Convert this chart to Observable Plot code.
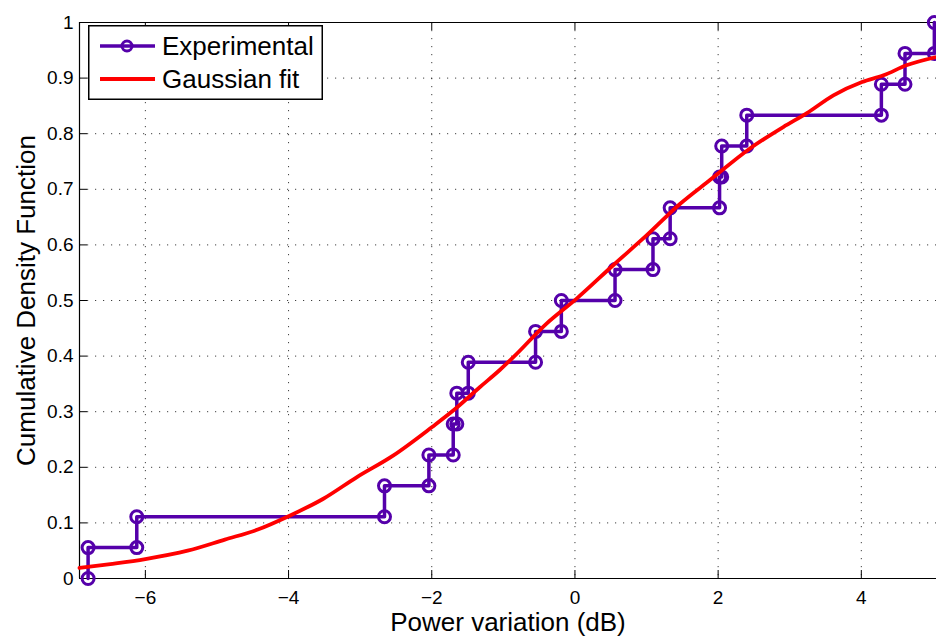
<!DOCTYPE html>
<html>
<head>
<meta charset="utf-8">
<script src="https://cdn.jsdelivr.net/npm/d3@7"></script>
<script src="https://cdn.jsdelivr.net/npm/@observablehq/plot@0.6"></script>
<style>
  html, body { margin: 0; padding: 0; background: #fff; }
  #chart { position: relative; width: 936px; height: 636px; font-family: "Liberation Sans", Arial, Helvetica, sans-serif; }
  #legend { position: absolute; left: 88px; top: 25px; }
</style>
</head>
<body>
<div id="chart"></div>
<script>
// Measured power variations (dB), sorted, one per sample
const powerVariation = [-6.80, -6.12, -2.66, -2.04, -1.70, -1.65, -1.49, -0.55, -0.19,
                        0.56, 1.09, 1.33, 2.02, 2.05, 2.40, 4.28, 4.61, 5.02];

// Gaussian fit CDF, sampled along the x axis
const fitX   = [-6.92, -6.49, -6.00, -5.41, -4.89, -4.43, -4.00, -3.52, -3.05, -2.54, -2.00, -1.70,
                -1.33, -1.05, -0.86, -0.40, 0.02, 0.53, 1.00, 1.47, 1.89, 2.44, 2.91, 3.24, 3.61,
                4.01, 4.31, 4.63, 5.05];
const fitCdf = [0.019, 0.026, 0.035, 0.050, 0.070, 0.088, 0.112, 0.143, 0.182, 0.221, 0.272, 0.302,
                0.344, 0.375, 0.398, 0.458, 0.503, 0.563, 0.617, 0.674, 0.717, 0.773, 0.812, 0.837, 0.869,
                0.893, 0.905, 0.923, 0.938];

// Axis ticks and labels
const xTicks = [-6, -4, -2, 0, 2, 4];
const xTickLabels = ["\u22126", "\u22124", "\u22122", "0", "2", "4"];
const yTicks = [0, 0.1, 0.2, 0.3, 0.4, 0.5, 0.6, 0.7, 0.8, 0.9, 1];
const yTickLabels = ["0", "0.1", "0.2", "0.3", "0.4", "0.5", "0.6", "0.7", "0.8", "0.9", "1"];
const xDomain = [-6.92, 5.05];
const yDomain = [0, 1];

const purple = "#5500aa";
const red = "#ff0000";

// Empirical CDF as a staircase: a vertical jump of 1/n at every sample
const n = powerVariation.length;
const stairs = powerVariation.flatMap((x, i) => [{x, y: i / n}, {x, y: (i + 1) / n}]);
const fit = fitX.map((x, i) => ({x, y: fitCdf[i]}));

const W = 936, H = 636, mL = 79, mR = 0, mT = 22, mB = 58;
const frameW = W - mL - mR, frameH = H - mT - mB, tickLen = 8;
const gridStyle = {stroke: "#000", strokeOpacity: 0.75, strokeWidth: 1, strokeDasharray: "1.2,6.8"};

const chart = Plot.plot({
  width: W, height: H,
  marginLeft: mL, marginRight: mR, marginTop: mT, marginBottom: mB,
  x: {domain: xDomain, axis: null},
  y: {domain: yDomain, axis: null},
  style: {fontFamily: "'Liberation Sans', Arial, Helvetica, sans-serif", background: "white", overflow: "visible"},
  marks: [
    // dotted grid
    Plot.ruleX(xTicks, gridStyle),
    Plot.ruleY(yTicks.slice(1, -1), gridStyle),
    // axis box (left, bottom, top)
    Plot.ruleX([xDomain[0]], {stroke: "#000", strokeWidth: 1.2}),
    Plot.ruleY([yDomain[0], yDomain[1]], {stroke: "#000", strokeWidth: 1.2}),
    // inward tick marks
    Plot.ruleX(xTicks, {stroke: "#000", insetTop: frameH - tickLen}),
    Plot.ruleX(xTicks, {stroke: "#000", insetBottom: frameH - tickLen}),
    Plot.ruleY(yTicks, {stroke: "#000", insetRight: frameW - tickLen}),
    // tick labels
    Plot.text(xTicks, {x: d => d, text: (d, i) => xTickLabels[i], frameAnchor: "bottom", dy: 19, fontSize: 19, lineAnchor: "middle", textAnchor: "middle"}),
    Plot.text(yTicks, {y: d => d, text: (d, i) => yTickLabels[i], frameAnchor: "left", dx: -6, textAnchor: "end", fontSize: 19}),
    // axis titles
    Plot.text(["Power variation (dB)"], {frameAnchor: "bottom", dy: 44, fontSize: 26, lineAnchor: "middle", textAnchor: "middle"}),
    Plot.text(["Cumulative Density Function"], {frameAnchor: "left", dx: -53, rotate: -90, fontSize: 26, lineAnchor: "middle", textAnchor: "middle"}),
    // experimental staircase with markers at every vertex
    Plot.line(stairs, {x: "x", y: "y", stroke: purple, strokeWidth: 3.5, curve: "linear"}),
    Plot.dot(stairs, {x: "x", y: "y", r: 6, stroke: purple, strokeWidth: 3, fill: "none"}),
    // Gaussian fit
    Plot.line(fit, {x: "x", y: "y", stroke: red, strokeWidth: 3.8, curve: "monotone-x"})
  ]
});

const root = document.getElementById("chart");
root.appendChild(chart);

// Legend box in the upper-left corner of the axes
const legendW = 235, legendH = 75;
const legend = d3.create("svg")
  .attr("id", "legend")
  .attr("width", legendW)
  .attr("height", legendH)
  .style("font-family", "'Liberation Sans', Arial, Helvetica, sans-serif");
legend.append("rect")
  .attr("x", 0.75).attr("y", 0.75)
  .attr("width", legendW - 1.5).attr("height", legendH - 1.5)
  .attr("fill", "#fff").attr("stroke", "#000").attr("stroke-width", 1.5);
const rows = [
  {label: "Experimental", color: purple, marker: true, y: 21},
  {label: "Gaussian fit", color: red, marker: false, y: 54}
];
for (const r of rows) {
  legend.append("line")
    .attr("x1", 12).attr("x2", 67).attr("y1", r.y).attr("y2", r.y)
    .attr("stroke", r.color).attr("stroke-width", r.marker ? 3.5 : 3.8);
  if (r.marker) {
    legend.append("circle")
      .attr("cx", 39).attr("cy", r.y).attr("r", 5)
      .attr("fill", "none").attr("stroke", r.color).attr("stroke-width", 3);
  }
  legend.append("text")
    .attr("x", 74).attr("y", r.y)
    .attr("dy", "0.36em")
    .attr("font-size", 26)
    .attr("fill", "#000")
    .text(r.label);
}
root.appendChild(legend.node());
</script>
</body>
</html>
